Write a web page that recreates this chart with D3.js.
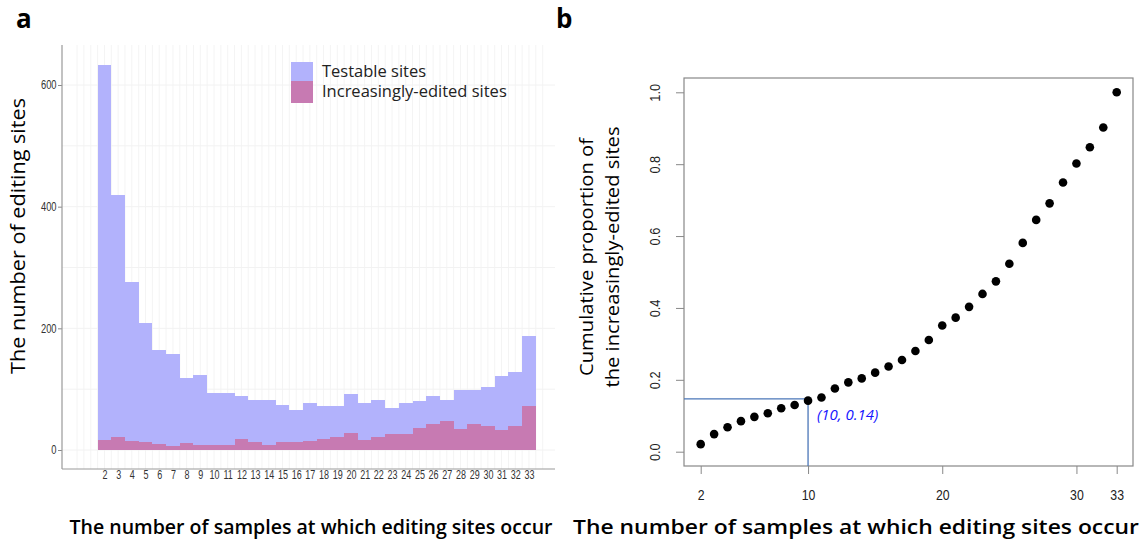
<!DOCTYPE html>
<html>
<head>
<meta charset="utf-8">
<script src="https://cdn.jsdelivr.net/npm/d3@7"></script>
<style>
  body { margin: 0; background: #fff; }
  text { font-family: "Open Sans", sans-serif; }
  .cond { font-family: "Liberation Sans", Arial, sans-serif; }
</style>
</head>
<body>
<svg id="chart" width="1148" height="544"></svg>
<script>
// Panel a: histogram counts per number of samples
var samples = d3.range(2, 34);
var testable = [633, 420, 276, 209, 164, 158, 118, 123, 93, 93, 88, 83, 82, 74, 66, 77,
                73, 73, 92, 78, 83, 69, 77, 81, 88, 83, 98, 98, 104, 122, 129, 187];
var increasing = [16, 21, 15, 13, 10, 7, 11, 8, 8, 8, 18, 13, 8, 13, 13, 15,
                  18, 22, 28, 17, 21, 27, 26, 36, 43, 48, 34, 43, 40, 33, 40, 73];
var countTicks = [0, 200, 400, 600];
var legendLabels = ['Testable sites', 'Increasingly-edited sites'];

// Panel b: cumulative proportion
var cumProp = [0.021, 0.049, 0.068, 0.085, 0.097, 0.107, 0.121, 0.130, 0.142, 0.151,
               0.176, 0.193, 0.204, 0.220, 0.237, 0.255, 0.280, 0.311, 0.351, 0.373,
               0.403, 0.439, 0.474, 0.523, 0.581, 0.645, 0.691, 0.749, 0.802, 0.847,
               0.902, 1.0];
var xTicksB = [2, 10, 20, 30, 33];
var yTicksB = [0, 0.2, 0.4, 0.6, 0.8, 1.0];
var marker = {x: 10, y: 0.147, label: '(10, 0.14)'};

var xTitle = 'The number of samples at which editing sites occur';

var svg = d3.select('#chart');

// ---------- Panel a ----------
var blue = 'rgb(178,178,252)', pink = 'rgb(199,122,178)';
var xa = d3.scaleLinear().domain([-1.1, 34.9]).range([62, 555]);
var ya = d3.scaleLinear().domain([0, 600]).range([450, 85]);
var a = svg.append('g');

// Faint grid lines
a.selectAll('.vgrid').data(d3.range(0, 69).map(function(i) { return i / 2; }))
  .enter().append('line')
  .attr('x1', function(d) { return xa(d); }).attr('x2', function(d) { return xa(d); })
  .attr('y1', 45).attr('y2', 469)
  .attr('stroke', '#f4f4f4').attr('stroke-width', 1);
a.selectAll('.hgrid').data(d3.range(0, 700, 100))
  .enter().append('line')
  .attr('x1', 62).attr('x2', 555)
  .attr('y1', function(d) { return ya(d); }).attr('y2', function(d) { return ya(d); })
  .attr('stroke', '#f2f2f2').attr('stroke-width', 1);

// Bars
a.selectAll('.tb').data(samples).enter().append('rect')
  .attr('x', function(d) { return xa(d - 0.5); })
  .attr('width', function(d) { return xa(d + 0.5) - xa(d - 0.5); })
  .attr('y', function(d, i) { return ya(testable[i]); })
  .attr('height', function(d, i) { return ya(0) - ya(testable[i]); })
  .attr('fill', blue).attr('shape-rendering', 'crispEdges');
a.selectAll('.ib').data(samples).enter().append('rect')
  .attr('x', function(d) { return xa(d - 0.5); })
  .attr('width', function(d) { return xa(d + 0.5) - xa(d - 0.5); })
  .attr('y', function(d, i) { return ya(increasing[i]); })
  .attr('height', function(d, i) { return ya(0) - ya(increasing[i]); })
  .attr('fill', pink).attr('shape-rendering', 'crispEdges');

// Axes
var yAxisA = a.append('g').attr('transform', 'translate(62,0)')
  .call(d3.axisLeft(ya).tickValues(countTicks).tickSize(4).tickPadding(3));
yAxisA.select('.domain').remove();
yAxisA.selectAll('line').attr('stroke', '#888');
yAxisA.selectAll('text').attr('class', 'cond').attr('font-size', 12).attr('fill', '#333')
  .attr('transform', 'scale(0.78,1)');
a.append('line').attr('x1', 62).attr('x2', 62).attr('y1', 45).attr('y2', 469)
  .attr('stroke', '#999').attr('stroke-width', 1.2);
var xAxisA = a.append('g').attr('transform', 'translate(0,469)')
  .call(d3.axisBottom(xa).tickValues(samples).tickSize(0).tickPadding(0).tickFormat(d3.format('d')));
xAxisA.select('.domain').remove();
xAxisA.selectAll('text').attr('class', 'cond').attr('font-size', 12.5).attr('fill', '#333')
  .attr('dy', 0).attr('y', 10)
  .attr('transform', 'scale(0.72,1)');
a.append('line').attr('x1', 62).attr('x2', 555).attr('y1', 469).attr('y2', 469)
  .attr('stroke', '#999').attr('stroke-width', 1.2);

// Legend
var legA = a.append('g');
legA.append('rect').attr('x', 291).attr('y', 62).attr('width', 22).attr('height', 19).attr('fill', blue);
legA.append('rect').attr('x', 291).attr('y', 81).attr('width', 22).attr('height', 22).attr('fill', pink);
legA.selectAll('text').data(legendLabels).enter().append('text')
  .attr('x', 322).attr('y', function(d, i) { return 77 + i * 19.5; })
  .attr('font-size', 16.5).attr('fill', '#222').text(function(d) { return d; });

// Titles
svg.append('text').attr('x', 16).attr('y', 28).attr('font-size', 26).attr('font-weight', 'bold').text('a');
svg.append('text').attr('transform', 'translate(25,236) rotate(-90)')
  .attr('text-anchor', 'middle').attr('font-size', 20)
  .attr('textLength', 276).attr('lengthAdjust', 'spacingAndGlyphs')
  .text('The number of editing sites');
svg.append('text').attr('x', 311).attr('y', 534).attr('text-anchor', 'middle')
  .attr('font-size', 20).attr('font-weight', 600)
  .attr('textLength', 483).attr('lengthAdjust', 'spacingAndGlyphs')
  .text(xTitle);

// ---------- Panel b ----------
var xb = d3.scaleLinear().domain([2, 33]).range([700.7, 1116.7]);
var yb = d3.scaleLinear().domain([0, 1]).range([451.7, 92.3]);
var b = svg.append('g');

b.append('rect').attr('x', 684).attr('y', 78).attr('width', 449).attr('height', 388)
  .attr('fill', 'none').attr('stroke', '#888').attr('stroke-width', 1.2);

var xAxisB = b.append('g').attr('transform', 'translate(0,466)')
  .call(d3.axisBottom(xb).tickValues(xTicksB).tickSize(8).tickPadding(0).tickFormat(d3.format('d')));
xAxisB.select('.domain').remove();
xAxisB.selectAll('line').attr('stroke', '#888');
xAxisB.selectAll('text').attr('class', 'cond').attr('font-size', 15).attr('fill', '#222')
  .attr('dy', 0).attr('y', 34)
  .attr('transform', 'scale(0.82,1)');

var yAxisB = b.append('g').attr('transform', 'translate(684,0)')
  .call(d3.axisLeft(yb).tickValues(yTicksB).tickSize(8).tickFormat(d3.format('.1f')));
yAxisB.select('.domain').remove();
yAxisB.selectAll('line').attr('stroke', '#888');
yAxisB.selectAll('text').attr('class', 'cond').attr('font-size', 15).attr('fill', '#222')
  .attr('text-anchor', 'middle')
  .attr('x', 0).attr('dy', 0).attr('y', 0)
  .attr('transform', 'translate(-24,0) rotate(-90) scale(0.85,1)');

// Reference lines
b.append('line').attr('x1', 684).attr('x2', xb(marker.x))
  .attr('y1', yb(marker.y)).attr('y2', yb(marker.y))
  .attr('stroke', '#4a76b8').attr('stroke-width', 1.3);
b.append('line').attr('x1', xb(marker.x)).attr('x2', xb(marker.x))
  .attr('y1', yb(marker.y)).attr('y2', 466)
  .attr('stroke', '#4a76b8').attr('stroke-width', 1.3);

// Points
b.selectAll('circle').data(samples).enter().append('circle')
  .attr('cx', function(d) { return xb(d); })
  .attr('cy', function(d, i) { return yb(cumProp[i]); })
  .attr('r', 4.3).attr('fill', '#000');

b.append('text').attr('x', xb(marker.x) + 9).attr('y', 420)
  .attr('font-size', 15).attr('font-style', 'italic').attr('fill', '#1515ff')
  .text(marker.label);

svg.append('text').attr('x', 556).attr('y', 28).attr('font-size', 26).attr('font-weight', 'bold').text('b');
var yTitleB = svg.append('text').attr('transform', 'translate(600,257) rotate(-90)')
  .attr('text-anchor', 'middle').attr('font-size', 19);
yTitleB.append('tspan').attr('x', 0).attr('y', -7)
  .attr('textLength', 238).attr('lengthAdjust', 'spacingAndGlyphs').text('Cumulative proportion of');
yTitleB.append('tspan').attr('x', 0).attr('y', 19)
  .attr('textLength', 261).attr('lengthAdjust', 'spacingAndGlyphs').text('the increasingly-edited sites');
svg.append('text').attr('x', 856).attr('y', 534).attr('text-anchor', 'middle')
  .attr('font-size', 20).attr('font-weight', 600)
  .attr('textLength', 566).attr('lengthAdjust', 'spacingAndGlyphs')
  .text(xTitle);
</script>
</body>
</html>
